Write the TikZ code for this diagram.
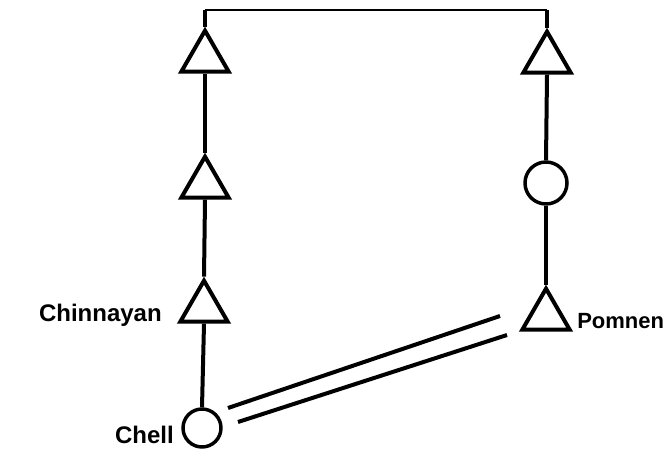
\documentclass[tikz,border=0pt]{standalone}
\usepackage{fontspec}
\setmainfont{Liberation Sans}
\usetikzlibrary{shapes.geometric}
\begin{document}
\begin{tikzpicture}[x=0.75pt,y=-0.75pt,
  tri/.style={regular polygon,regular polygon sides=3,draw,line width=3pt,minimum size=41pt,inner sep=0pt},
  circ/.style={circle,draw,line width=2.6pt,inner sep=0pt},
  link/.style={line width=3pt},
  toplink/.style={line width=1.6pt},
  lbl/.style={font=\bfseries\fontsize{18}{20}\selectfont,inner sep=0pt}]
\useasboundingbox (0,0) rectangle (666,452);
% nodes
\node[tri] (L1) at (205,58) {};
\node[tri] (L2) at (205,184) {};
\node[tri] (L3) at (204,308) {};
\node[circ,minimum size=28.5pt] (chell) at (202,428) {};
\node[tri] (R1) at (547,59) {};
\node[circ,minimum size=31.5pt] (R2) at (546,183) {};
\node[tri] (pomnen) at (546,316) {};
\coordinate (tl) at (205,10);
\coordinate (tr) at (547,10);
% labels
\node[lbl,anchor=base east] (lc) at (162,321) {Chinnayan};
\node[lbl,anchor=base east] (lch) at (174,443) {Chell};
\node[lbl,anchor=base west,font=\bfseries\fontsize{16.5}{18}\selectfont] (lp) at (577,328) {Pomnen};
% connectors
\draw[toplink] (tl) -- (tr);
\draw[link] (tl) -- (L1.corner 1);
\draw[link] (L1.south) -- (L2.corner 1);
\draw[link] (L2.south) -- (L3.corner 1);
\draw[link] (L3.south) -- (chell.north);
\draw[link] (tr) -- (R1.corner 1);
\draw[link] (R1.south) -- (R2.north);
\draw[link] (R2.south) -- (pomnen.corner 1);
\coordinate (a1) at (228,408);
\coordinate (a2) at (500,316);
\coordinate (b1) at (238,422);
\coordinate (b2) at (507,335);
\draw[link] (a1) -- (a2);
\draw[link] (b1) -- (b2);
\end{tikzpicture}
\end{document}
